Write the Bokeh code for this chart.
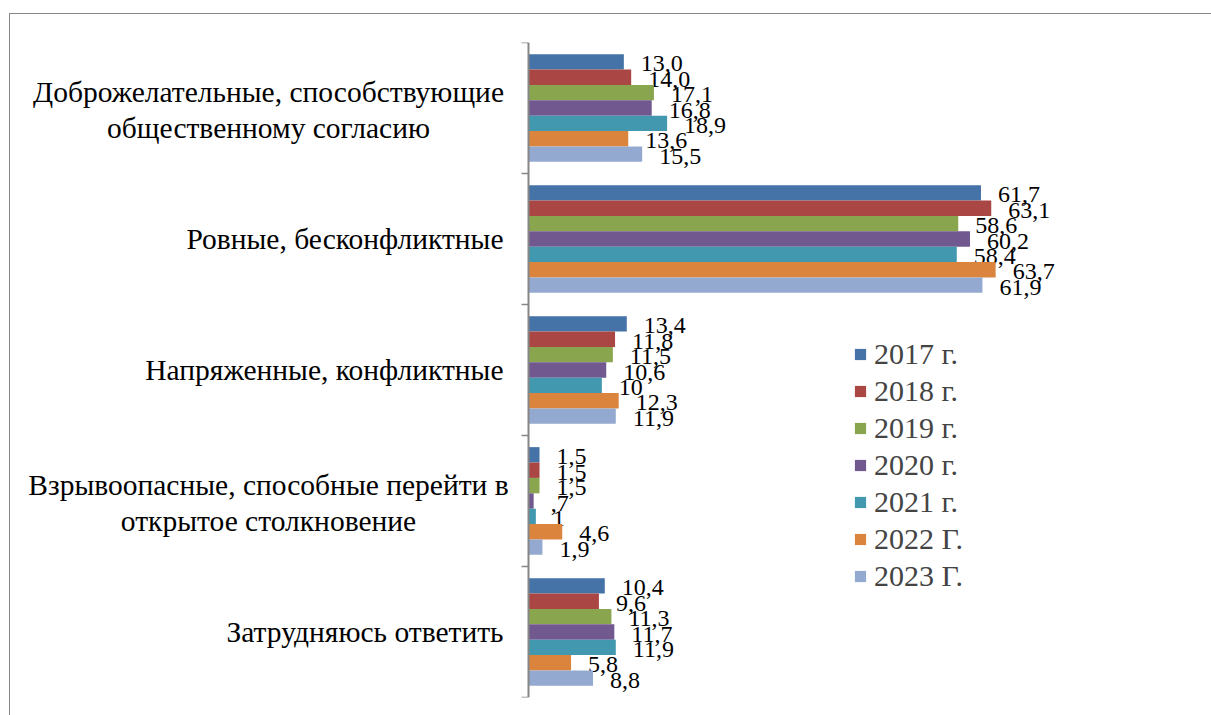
from bokeh.plotting import figure
from bokeh.models import Range1d, FixedTicker, ColumnDataSource, Label
from bokeh.core.properties import value
from bokeh.embed import file_html
from bokeh.resources import INLINE

categories = [
    "Доброжелательные, способствующие\nобщественному согласию",
    "Ровные, бесконфликтные",
    "Напряженные, конфликтные",
    "Взрывоопасные, способные перейти в\nоткрытое столкновение",
    "Затрудняюсь ответить",
]
years = ["2017 г.", "2018 г.", "2019 г.", "2020 г.", "2021 г.", "2022 Г.", "2023 Г."]
colors = ["#4572A7", "#AA4643", "#89A54E", "#71588F", "#4198AF", "#DB843D", "#93A9CF"]

v2017 = [13.0, 61.7, 13.4, 1.5, 10.4]
v2018 = [14.0, 63.1, 11.8, 1.5, 9.6]
v2019 = [17.1, 58.6, 11.5, 1.5, 11.3]
v2020 = [16.8, 60.2, 10.6, 0.7, 11.7]
v2021 = [18.9, 58.4, 10.0, 1.0, 11.9]
v2022 = [13.6, 63.7, 12.3, 4.6, 5.8]
v2023 = [15.5, 61.9, 11.9, 1.9, 8.8]

l2017 = ["13,0", "61,7", "13,4", "1,5", "10,4"]
l2018 = ["14,0", "63,1", "11,8", "1,5", "9,6"]
l2019 = ["17,1", "58,6", "11,5", "1,5", "11,3"]
l2020 = ["16,8", "60,2", "10,6", ",7", "11,7"]
l2021 = ["18,9", "58,4", "10", "1", "11,9"]
l2022 = ["13,6", "63,7", "12,3", "4,6", "5,8"]
l2023 = ["15,5", "61,9", "11,9", "1,9", "8,8"]

series = [v2017, v2018, v2019, v2020, v2021, v2022, v2023]
labels = [l2017, l2018, l2019, l2020, l2021, l2022, l2023]

SERIF = "'Liberation Serif', serif"
GRAY = "#868686"

n = len(categories)
centers = [n - 0.5 - k for k in range(n)]
bar_h = 0.1175

p = figure(
    output_backend="svg",
    toolbar_location=None,
    frame_width=1170,
    frame_height=655,
    min_border_left=8,
    min_border_right=23,
    min_border_top=28,
    min_border_bottom=18,
    x_range=Range1d(-69.55, 90),
    y_range=Range1d(0, n),
)
p.styles = {
    "border-left": "1px solid " + GRAY,
    "border-top": "1px solid " + GRAY,
    "margin-left": "9px",
    "margin-top": "13px",
}
p.outline_line_color = None
p.xgrid.visible = False
p.ygrid.visible = False
p.xaxis.visible = False

for j, (vals, labs, yr, col) in enumerate(zip(series, labels, years, colors)):
    ys = [c + (3 - j) * bar_h for c in centers]
    src = ColumnDataSource(dict(y=ys, right=vals, lab=labs))
    p.hbar(y="y", left=0, right="right", height=bar_h, source=src,
           fill_color=col, line_color=None, legend_label=yr)
    p.text(x="right", y="y", text="lab", source=src, x_offset=17, y_offset=2,
           text_align="left", text_baseline="middle", text_font=value(SERIF),
           text_font_size="24px", text_color="black")

ax = p.yaxis[0]
ax.fixed_location = 0
ax.ticker = FixedTicker(ticks=[], minor_ticks=list(range(n + 1)))
ax.major_tick_out = 0
ax.major_tick_in = 0
ax.minor_tick_out = 7
ax.minor_tick_in = 0
ax.minor_tick_line_color = GRAY
ax.minor_tick_line_width = 1.5
ax.axis_line_color = GRAY
ax.axis_line_width = 2

for c, cat in zip(centers, categories):
    lines = cat.split("\n")
    multi = len(lines) > 1
    for i, line in enumerate(lines):
        if multi:
            yoff = 16 if i == 0 else -20
        else:
            yoff = 0
        p.add_layout(Label(
            x=0, y=c, x_offset=-260 if multi else -25, y_offset=yoff,
            text=line, text_align="center" if multi else "right",
            text_baseline="middle", text_font=SERIF,
            text_font_size="29.5px", text_color="black",
        ))

lg = p.legend[0]
lg.location = (835, 104)
lg.padding = 0
lg.margin = 0
lg.border_line_color = None
lg.background_fill_alpha = 0
lg.glyph_width = 14
lg.glyph_height = 14
lg.label_standoff = 7
lg.label_text_font = "Liberation Serif"
lg.label_text_font_size = "30px"
lg.label_height = 31
lg.spacing = 3

open("out.html", "w").write(file_html(p, INLINE))
